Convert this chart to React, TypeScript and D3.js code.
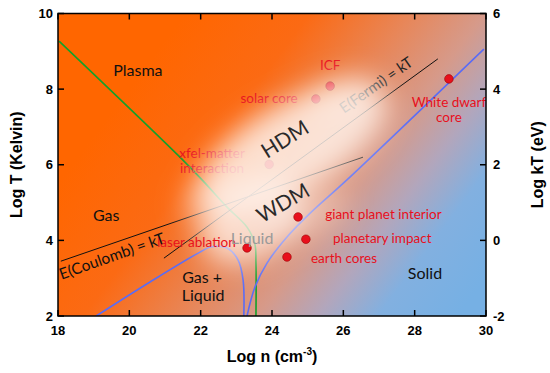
import React, { useEffect, useRef } from 'react';
import * as d3 from 'd3';

const width = 550;
const height = 373;
const margin = { top: 13.5, right: 64, bottom: 57, left: 58 };

const nDomain = [18, 30];
const tDomain = [2, 10];
const kTDomain = [-2, 6];
const nTicks = [18, 20, 22, 24, 26, 28, 30];
const tTicks = [2, 4, 6, 8, 10];
const kTTicks = [-2, 0, 2, 4, 6];

// phase boundaries, [log n, log T]
const plasmaGasLine = [[18.03, 9.27], [21.42, 6.2], [22.04, 5.6], [22.74, 4.88], [23.3, 4.35], [23.52, 3.9], [23.55, 3.4], [23.55, 2.0]];
const gasLiquidLine = [[19.07, 2.0], [20.58, 2.9], [21.98, 3.69], [22.3, 3.83], [22.74, 3.8], [23.05, 3.48], [23.19, 2.95], [23.21, 2.0]];
const meltingLine = [[23.3, 2.0], [23.52, 2.76], [23.86, 3.4], [24.42, 4.09], [25.07, 4.72], [26.1, 5.6], [29.94, 9.06]];
const coulombLine = [[18.08, 3.45], [26.55, 6.2]];
const fermiLine = [[20.97, 3.53], [28.65, 8.8]];

// example systems (first three sit inside the HDM cloud)
const systemNames = ['xfel', 'solar core', 'ICF', 'white dwarf', 'giant planet', 'planetary impact', 'earth cores', 'laser ablation'];
const systemN = [23.92, 25.23, 25.63, 28.96, 24.73, 24.95, 24.42, 23.3];
const systemT = [6.01, 7.74, 8.08, 8.27, 4.62, 4.03, 3.56, 3.8];

const App = () => {
  const ref = useRef<SVGSVGElement>(null);

  useEffect(() => {
    const svg = d3.select(ref.current);
    svg.selectAll('*').remove();

    const x = d3.scaleLinear().domain(nDomain).range([margin.left, width - margin.right]);
    const y = d3.scaleLinear().domain(tDomain).range([height - margin.bottom, margin.top]);
    const yk = d3.scaleLinear().domain(kTDomain).range([height - margin.bottom, margin.top]);
    const x0 = margin.left, x1 = width - margin.right, y0 = margin.top, y1 = height - margin.bottom;
    const font = 'Lato, "Open Sans", sans-serif';
    const red = '#e8101c';

    const defs = svg.append('defs');
    const grad = defs.append('linearGradient').attr('id', 'bg')
      .attr('gradientUnits', 'userSpaceOnUse')
      .attr('x1', 150).attr('y1', 60).attr('x2', 470).attr('y2', 300);
    [[0, '#ff6600'], [0.25, '#fb6a14'], [0.45, '#e88658'], [0.6, '#d69a8a'], [0.72, '#b2a6bc'], [0.84, '#82b0e0'], [1, '#76b0e4']]
      .forEach(([o, c]) => grad.append('stop').attr('offset', o).attr('stop-color', c));
    defs.append('filter').attr('id', 'blur')
      .attr('x', '-50%').attr('y', '-50%').attr('width', '200%').attr('height', '200%')
      .append('feGaussianBlur').attr('stdDeviation', 14);
    defs.append('clipPath').attr('id', 'clip').append('rect')
      .attr('x', x0).attr('y', y0).attr('width', x1 - x0).attr('height', y1 - y0);

    const plot = svg.append('g').attr('clip-path', 'url(#clip)');
    plot.append('rect').attr('x', x0).attr('y', y0).attr('width', x1 - x0).attr('height', y1 - y0)
      .attr('fill', 'url(#bg)');

    const line = d3.line<number[]>().x(d => x(d[0])).y(d => y(d[1]));
    const curve = d3.line<number[]>().x(d => x(d[0])).y(d => y(d[1])).curve(d3.curveCatmullRom.alpha(0.5));

    plot.append('path').attr('d', curve(plasmaGasLine)).attr('fill', 'none').attr('stroke', '#14a02a').attr('stroke-width', 1.6);
    plot.append('path').attr('d', curve(gasLiquidLine)).attr('fill', 'none').attr('stroke', '#5a6cf5').attr('stroke-width', 1.6);
    plot.append('path').attr('d', curve(meltingLine)).attr('fill', 'none').attr('stroke', '#5a6cf5').attr('stroke-width', 1.6);
    plot.append('path').attr('d', line(coulombLine)).attr('fill', 'none').attr('stroke', '#111').attr('stroke-width', 1);
    plot.append('path').attr('d', line(fermiLine)).attr('fill', 'none').attr('stroke', '#111').attr('stroke-width', 1);

    // labels under the cloud
    const under = [
      { t: 'xfel-matter', n: 22.32, T: 6.18 },
      { t: 'interaction', n: 22.32, T: 5.78 },
      { t: 'solar core', n: 23.92, T: 7.63 },
      { t: 'ICF', n: 25.63, T: 8.51 },
    ];
    plot.selectAll('text.under').data(under).enter().append('text')
      .attr('x', d => x(d.n)).attr('y', d => y(d.T)).attr('text-anchor', 'middle')
      .attr('fill', red).style('font-family', font).style('font-size', '13.5px').text(d => d.t);
    plot.append('text')
      .attr('transform', `translate(${x(26.02)},${y(7.35)}) rotate(-35)`)
      .attr('fill', '#222').style('font-family', font).style('font-size', '15px').text('E(Fermi) = kT');
    plot.selectAll('circle.under').data(systemNames.slice(0, 3)).enter().append('circle')
      .attr('cx', (d, i) => x(systemN[i])).attr('cy', (d, i) => y(systemT[i])).attr('r', 4.3)
      .attr('fill', red).attr('stroke', '#900').attr('stroke-width', 0.6);

    // white cloud
    const cloud = plot.append('g').attr('filter', 'url(#blur)');
    const blobs = [
      { n: 24.56, T: 6.44, rx: 108, ry: 44, r: -30, o: 0.82 },
      { n: 25.85, T: 7.95, rx: 36, ry: 12, r: -15, o: 0.45 },
      { n: 23.44, T: 4.49, rx: 55, ry: 36, r: -30, o: 0.75 },
      { n: 22.12, T: 4.93, rx: 22, ry: 22, r: 0, o: 0.4 },
      { n: 25.07, T: 4.67, rx: 40, ry: 18, r: -30, o: 0.4 },
    ];
    cloud.selectAll('ellipse').data(blobs).enter().append('ellipse')
      .attr('transform', d => `translate(${x(d.n)},${y(d.T)}) rotate(${d.r})`)
      .attr('rx', d => d.rx).attr('ry', d => d.ry).attr('fill', '#fff6f0').attr('opacity', d => d.o);

    // labels above the cloud
    const over = [
      { t: 'White dwarf', n: 28.96, T: 7.53, a: 'middle' },
      { t: 'core', n: 28.96, T: 7.13, a: 'middle' },
      { t: 'giant planet interior', n: 25.49, T: 4.56, a: 'start' },
      { t: 'planetary impact', n: 25.71, T: 3.93, a: 'start' },
      { t: 'earth cores', n: 25.09, T: 3.4, a: 'start' },
      { t: 'laser ablation', n: 20.78, T: 3.83, a: 'start' },
    ];
    plot.selectAll('text.over').data(over).enter().append('text')
      .attr('x', d => x(d.n)).attr('y', d => y(d.T)).attr('text-anchor', d => d.a)
      .attr('fill', red).style('font-family', font).style('font-size', '13.5px').text(d => d.t);
    plot.selectAll('circle.over').data(systemNames.slice(3)).enter().append('circle')
      .attr('cx', (d, i) => x(systemN[i + 3])).attr('cy', (d, i) => y(systemT[i + 3])).attr('r', 4.3)
      .attr('fill', red).attr('stroke', '#900').attr('stroke-width', 0.6);

    const regions = [
      { t: 'Plasma', n: 20.24, T: 8.35 },
      { t: 'Gas', n: 19.35, T: 4.5 },
      { t: 'Gas +', n: 22.04, T: 2.87 },
      { t: 'Liquid', n: 22.07, T: 2.4 },
      { t: 'Solid', n: 28.29, T: 2.98 },
    ];
    plot.selectAll('text.region').data(regions).enter().append('text')
      .attr('x', d => x(d.n)).attr('y', d => y(d.T)).attr('text-anchor', 'middle')
      .attr('fill', '#111').style('font-family', font).style('font-size', '16px').text(d => d.t);
    plot.append('text').attr('x', x(23.44)).attr('y', y(3.9)).attr('text-anchor', 'middle')
      .attr('fill', '#9a9a9a').style('font-family', font).style('font-size', '16px').text('Liquid');
    plot.append('text').attr('transform', `translate(${x(24.36)},${y(6.68)}) rotate(-32)`)
      .attr('text-anchor', 'middle').attr('dy', '0.35em')
      .attr('fill', '#2a2a2a').style('font-family', font).style('font-size', '21px').text('HDM');
    plot.append('text').attr('transform', `translate(${x(24.31)},${y(4.99)}) rotate(-30)`)
      .attr('text-anchor', 'middle').attr('dy', '0.35em')
      .attr('fill', '#2a2a2a').style('font-family', font).style('font-size', '21px').text('WDM');
    plot.append('text').attr('transform', `translate(${x(18.1)},${y(2.96)}) rotate(-19.5)`)
      .attr('fill', '#111').style('font-family', font).style('font-size', '15.5px').text('E(Coulomb) = kT');

    // frame and ticks
    svg.append('rect').attr('x', x0).attr('y', y0).attr('width', x1 - x0).attr('height', y1 - y0)
      .attr('fill', 'none').attr('stroke', '#000').attr('stroke-width', 1.5);
    const tl = 6;
    nTicks.forEach(v => {
      svg.append('line').attr('x1', x(v)).attr('x2', x(v)).attr('y1', y1).attr('y2', y1 - tl).attr('stroke', '#000').attr('stroke-width', 1.5);
      svg.append('line').attr('x1', x(v)).attr('x2', x(v)).attr('y1', y0).attr('y2', y0 + tl).attr('stroke', '#000').attr('stroke-width', 1.5);
    });
    tTicks.forEach(v => {
      svg.append('line').attr('x1', x0).attr('x2', x0 + tl).attr('y1', y(v)).attr('y2', y(v)).attr('stroke', '#000').attr('stroke-width', 1.5);
    });
    kTTicks.forEach(v => {
      svg.append('line').attr('x1', x1).attr('x2', x1 - tl).attr('y1', yk(v)).attr('y2', yk(v)).attr('stroke', '#000').attr('stroke-width', 1.5);
    });
    const tickFont = '"Liberation Sans", Arial, sans-serif';
    svg.selectAll('text.xt').data(nTicks).enter().append('text')
      .attr('x', d => x(d)).attr('y', y1 + 19).attr('text-anchor', 'middle')
      .style('font-family', tickFont).style('font-weight', 'bold').style('font-size', '13px').text(d => d);
    svg.selectAll('text.yt').data(tTicks).enter().append('text')
      .attr('x', x0 - 5).attr('y', d => y(d)).attr('dy', '0.35em').attr('text-anchor', 'end')
      .style('font-family', tickFont).style('font-weight', 'bold').style('font-size', '13px').text(d => d);
    svg.selectAll('text.kt').data(kTTicks).enter().append('text')
      .attr('x', x1 + 7).attr('y', d => yk(d)).attr('dy', '0.35em').attr('text-anchor', 'start')
      .style('font-family', tickFont).style('font-weight', 'bold').style('font-size', '13px').text(d => d);

    svg.append('text').attr('transform', `translate(22,${(y0 + y1) / 2}) rotate(-90)`)
      .attr('text-anchor', 'middle')
      .style('font-family', tickFont).style('font-weight', 'bold').style('font-size', '16px').text('Log T (Kelvin)');
    svg.append('text').attr('transform', `translate(543,${(y0 + y1) / 2}) rotate(-90)`)
      .attr('text-anchor', 'middle')
      .style('font-family', tickFont).style('font-weight', 'bold').style('font-size', '16px').text('Log kT (eV)');
    const xl = svg.append('text').attr('x', (x0 + x1) / 2).attr('y', 362).attr('text-anchor', 'middle')
      .style('font-family', tickFont).style('font-weight', 'bold').style('font-size', '16px');
    xl.append('tspan').text('Log n (cm');
    xl.append('tspan').attr('dy', -7).style('font-size', '10px').text('-3');
    xl.append('tspan').attr('dy', 7).text(')');
  }, []);

  return (
    <div style={{ position: 'absolute', left: 0, top: 0 }}>
      <svg ref={ref} width={width} height={height} style={{ display: 'block', background: '#fff' }}></svg>
    </div>
  );
};

export default App;
